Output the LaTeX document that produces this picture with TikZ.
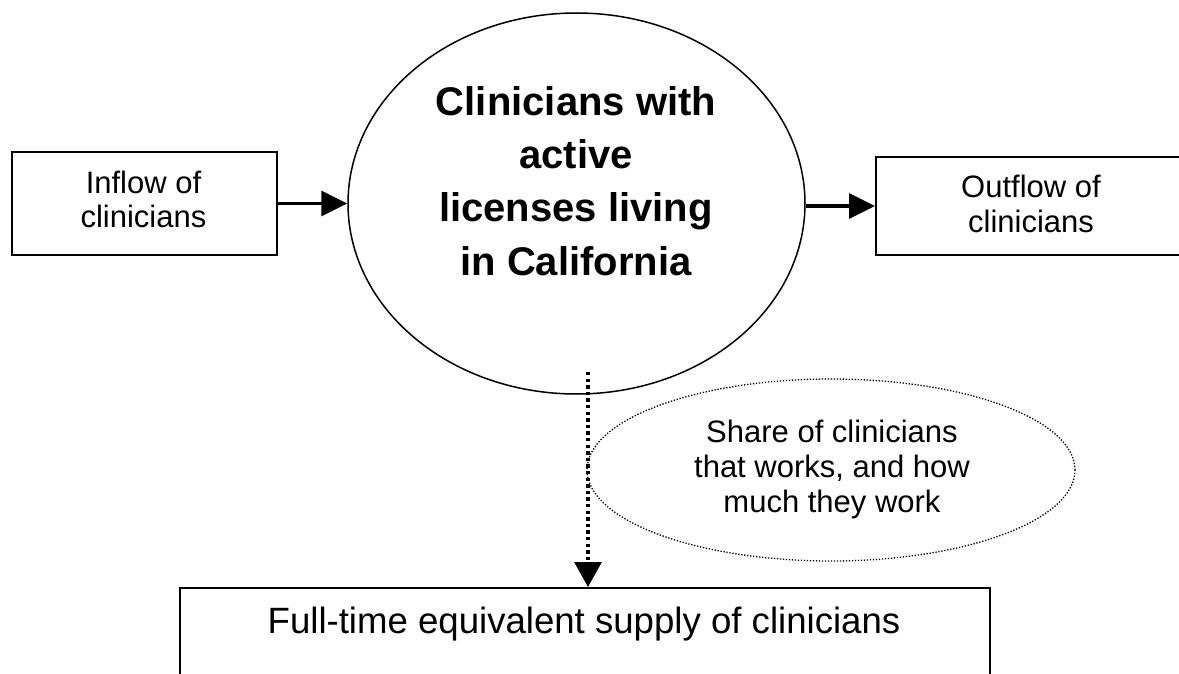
\documentclass[tikz,border=0pt]{standalone}
\usepackage{fontspec}
\setmainfont{Liberation Sans}
\usetikzlibrary{arrows.meta,shapes.geometric}
\begin{document}
\begin{tikzpicture}[x=1pt,y=-1pt,
  flowbox/.style={draw, line width=2pt, inner sep=0pt, rectangle},
  smalltxt/.style={font=\fontsize{31}{35}\selectfont, align=center, inner sep=0pt},
  bigtxt/.style={font=\fontsize{40}{53.3}\selectfont\bfseries, align=center, inner sep=0pt},
  ftetxt/.style={font=\fontsize{36.6}{42}\selectfont, inner sep=0pt},
  flowarrow/.style={line width=3.3pt, -{Triangle[length=26pt,width=25pt]}},
  dotarrow/.style={line width=3.3pt, dash pattern=on 3.3pt off 3.3pt, -{Triangle[length=25pt,width=27pt]}},
  dotellipse/.style={draw, ellipse, line width=1.3pt, dash pattern=on 1.3pt off 1.7pt, inner sep=0pt}
]
\useasboundingbox (0,0) rectangle (1179,674);
\fill[white] (0,0) rectangle (1179,674);
\clip (0,0) rectangle (1179,674);

% main stock
\node[draw, ellipse, line width=1.5pt, inner sep=0pt, minimum width=457pt, minimum height=381pt] (main) at (576.5,203.5) {};
\node[bigtxt, anchor=base] (maintxt) at (576,275) {Clinicians with\\active\\licenses living\\in California};

% inflow
\node[flowbox, minimum width=265pt, minimum height=103pt] (inflow) at (144.5,203.5) {};
\node[smalltxt, anchor=base] (inflowtxt) at (143.5,228) {Inflow of\\clinicians};

% outflow
\node[flowbox, minimum width=310pt, minimum height=98pt] (outflow) at (1031,206) {};
\node[smalltxt, anchor=base] (outflowtxt) at (1031,233) {Outflow of\\clinicians};

% share ellipse
\node[dotellipse, minimum width=488pt, minimum height=182pt] (share) at (831,470) {};
\node[smalltxt, anchor=base] (sharetxt) at (832,512) {Share of clinicians\\that works, and how\\much they work};

% FTE box
\node[flowbox, minimum width=810pt, minimum height=132pt] (fte) at (585,654) {};
\node[ftetxt, anchor=base] (ftetxt) at (584,633) {Full-time equivalent supply of clinicians};

% connectors
\draw[flowarrow] (inflow.east) -- (main.west |- inflow.east);
\draw[flowarrow] (main.east |- outflow.west) -- (outflow.west);
\coordinate (dstart) at (588,372);
\draw[dotarrow] (dstart) -- (dstart |- fte.north);
\end{tikzpicture}
\end{document}
